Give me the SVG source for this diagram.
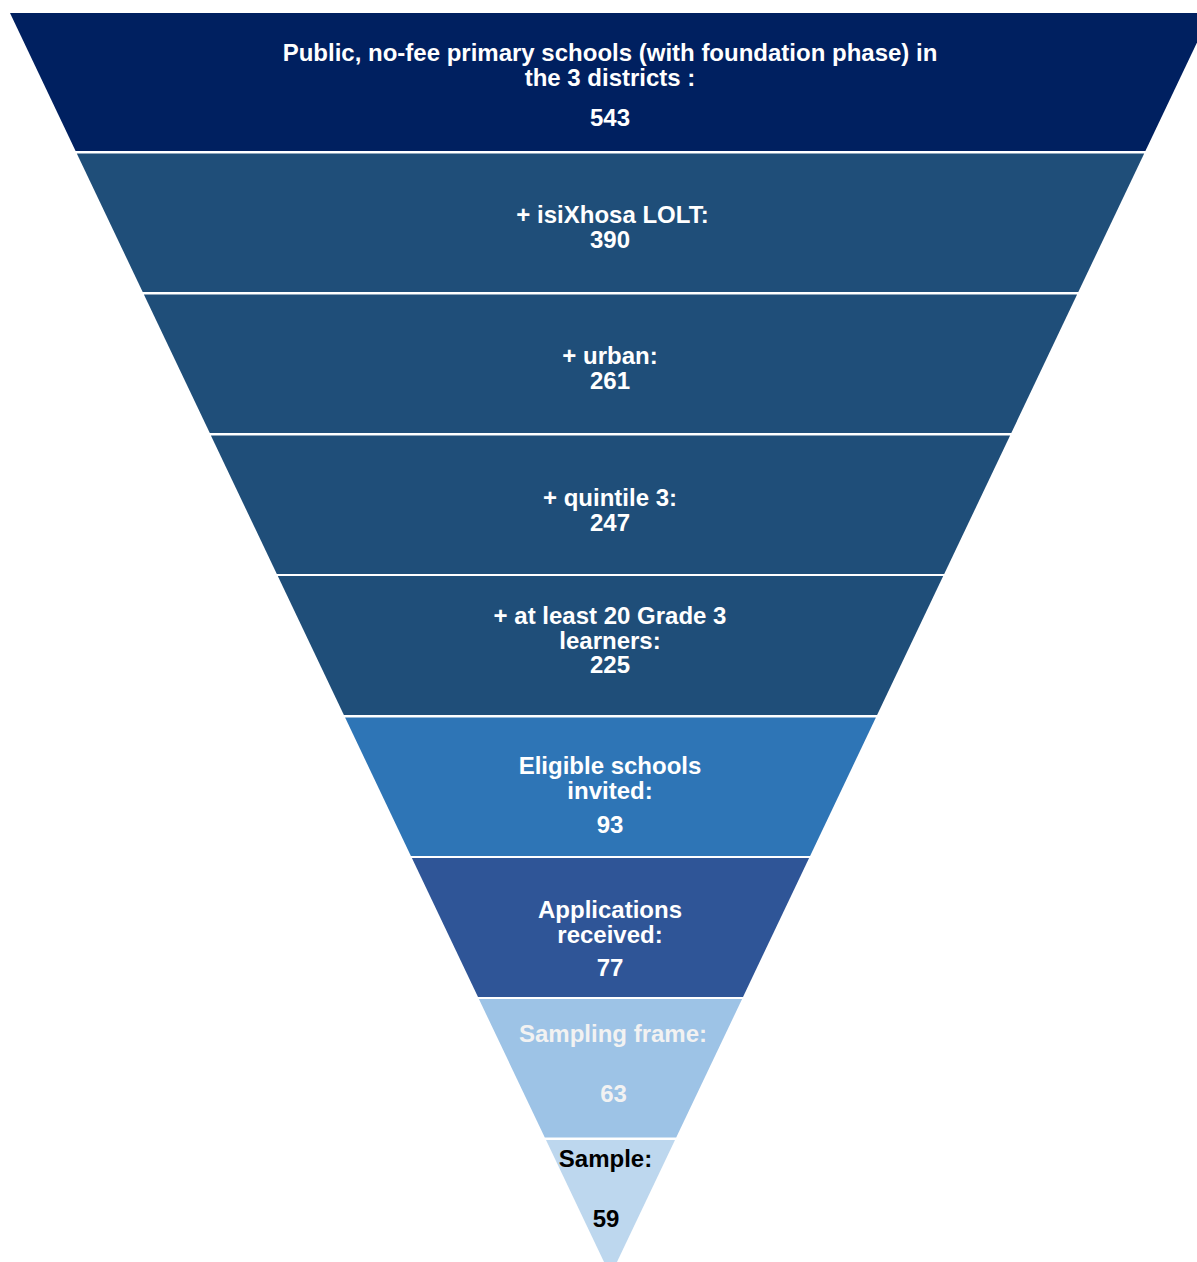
<svg xmlns="http://www.w3.org/2000/svg" width="1197" height="1262" viewBox="0 0 1197 1262">
<style>
text{font-family:"Liberation Sans",Arial,sans-serif;font-weight:bold;font-size:24px;text-anchor:middle;fill:#FFFFFF}
.b1{fill:#002060}.b2{fill:#1F4E79}.b6{fill:#2E75B6}.b7{fill:#2F5597}.b8{fill:#9DC3E6}.b9{fill:#BDD7EE}
.t8{fill:#F2F2F2}.t9{fill:#000000}
</style>
<rect width="1197" height="1262" fill="#FFFFFF"/>
<g id="stage1"><polygon class="b1" points="10,13 1211,13 1145.4,151 75.6,151"/>
<text x="610" y="61">Public, no-fee primary schools (with foundation phase) in</text>
<text x="610" y="86">the 3 districts :</text>
<text x="610" y="126">543</text></g>
<g id="stage2"><polygon class="b2" points="76.8,153.5 1144.2,153.5 1078.3,292 142.7,292"/>
<text x="612.5" y="223">+ isiXhosa LOLT:</text>
<text x="610" y="248">390</text></g>
<g id="stage3"><polygon class="b2" points="143.9,294.5 1077.1,294.5 1011.3,433 209.8,433"/>
<text x="610" y="364">+ urban:</text>
<text x="610" y="389">261</text></g>
<g id="stage4"><polygon class="b2" points="210.9,435.5 1010.1,435.5 944.2,574 276.8,574"/>
<text x="610" y="506">+ quintile 3:</text>
<text x="610" y="531">247</text></g>
<g id="stage5"><polygon class="b2" points="277.8,576 943.2,576 877.1,715 343.9,715"/>
<text x="610" y="624">+ at least 20 Grade 3</text>
<text x="610" y="648.5">learners:</text>
<text x="610" y="673">225</text></g>
<g id="stage6"><polygon class="b6" points="345.1,717.5 875.9,717.5 810.1,856 410.9,856"/>
<text x="610" y="774">Eligible schools</text>
<text x="610" y="799">invited:</text>
<text x="610" y="833">93</text></g>
<g id="stage7"><polygon class="b7" points="411.9,858 809.1,858 743,997 478,997"/>
<text x="610" y="918">Applications</text>
<text x="610" y="943">received:</text>
<text x="610" y="976">77</text></g>
<g id="stage8"><polygon class="b8" points="478.9,999 742.1,999 676.2,1137.5 544.8,1137.5"/>
<text class="t8" x="613" y="1042">Sampling frame:</text>
<text class="t8" x="613.5" y="1102">63</text></g>
<g id="stage9"><polygon class="b9" points="546,1140 675,1140 610.5,1275.6"/>
<text class="t9" x="605.5" y="1167">Sample:</text>
<text class="t9" x="606" y="1227">59</text></g>
<g id="connectors"></g>
</svg>
